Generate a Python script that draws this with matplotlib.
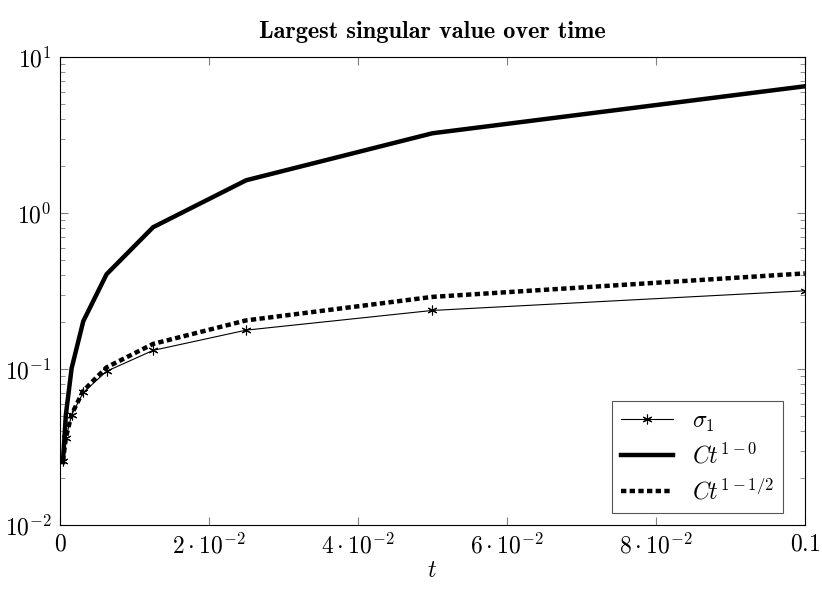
import matplotlib
matplotlib.use("Agg")
import matplotlib.pyplot as plt
from matplotlib.ticker import FixedLocator, LogLocator, NullFormatter

plt.rcParams['font.family'] = 'cmr10'
plt.rcParams['mathtext.fontset'] = 'cm'
plt.rcParams['axes.formatter.use_mathtext'] = True
plt.rcParams['font.size'] = 17

# time steps
t = [0.000390625, 0.00078125, 0.0015625, 0.003125, 0.00625, 0.0125, 0.025, 0.05, 0.1]

# largest singular value
sigma1 = [0.0258, 0.036, 0.051, 0.071, 0.097, 0.132, 0.178, 0.238, 0.318]
# reference slopes
ct_1 = [0.0254, 0.0508, 0.1016, 0.203, 0.406, 0.8125, 1.625, 3.25, 6.5]
ct_half = [0.0257, 0.0363, 0.0514, 0.0727, 0.1028, 0.1453, 0.2055, 0.2907, 0.4111]

xticks = [0, 0.02, 0.04, 0.06, 0.08, 0.1]
xticklabels = ['$0$', r'$2\cdot10^{-2}$', r'$4\cdot10^{-2}$', r'$6\cdot10^{-2}$', r'$8\cdot10^{-2}$', '$0.1$']
yticks = [1e-2, 1e-1, 1e0, 1e1]
yticklabels = ['$10^{-2}$', '$10^{-1}$', '$10^{0}$', '$10^{1}$']

fig = plt.figure(figsize=(8.22, 6.01), dpi=100)
ax = fig.add_axes([0.073, 0.126, 0.906, 0.779])

ax.plot(t, sigma1, color='black', linewidth=0.8, marker=(6, 2, 0), markersize=7,
        markeredgewidth=0.8, label=r'$\sigma_1$')
ax.plot(t, ct_1, color='black', linewidth=3.2, label=r'$Ct^{\hspace{0.06}1-0}$')
ax.plot(t, ct_half, color='black', linewidth=3.2, linestyle=(0, (1.2, 0.75)),
        label=r'$Ct^{\hspace{0.06}1-1/2}$')

ax.set_yscale('log')
ax.set_xlim(0, 0.1)
ax.set_ylim(1e-2, 1e1)

ax.xaxis.set_major_locator(FixedLocator(xticks))
ax.set_xticklabels(xticklabels)
ax.set_yticks(yticks)
ax.set_yticklabels(yticklabels)
ax.yaxis.set_minor_locator(LogLocator(base=10, subs=range(2, 10)))
ax.yaxis.set_minor_formatter(NullFormatter())

ax.tick_params(which='both', direction='in', top=True, right=True, color='#808080')
ax.tick_params(which='major', length=6, width=0.8, labelsize=17, pad=6)
ax.tick_params(which='minor', length=3.5, width=0.6)

ax.set_xlabel('$t$', fontsize=17, labelpad=1)
ax.set_title('Largest singular value over time', fontsize=17.5, fontfamily='cmb10', pad=14)

leg = ax.legend(loc='lower right', fontsize=17, frameon=True, fancybox=False,
                edgecolor='#555555', framealpha=1, handlelength=2.2, numpoints=1,
                borderaxespad=0.5, labelspacing=0.4, bbox_to_anchor=(0.987, 0.0))
leg.get_frame().set_linewidth(0.8)

fig.savefig('out.png', dpi=100)
